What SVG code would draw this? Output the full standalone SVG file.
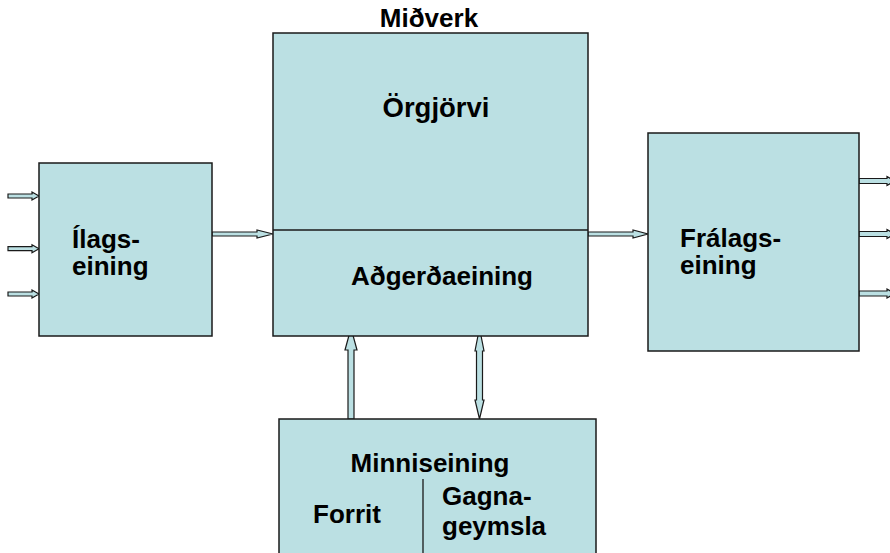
<svg xmlns="http://www.w3.org/2000/svg" width="890" height="553" viewBox="0 0 890 553">
<style>
.box{fill:#BBE0E3;stroke:#1a1a1a;stroke-width:1.5}
.div{stroke:#1a1a1a;stroke-width:1.3;fill:none}
.arr{fill:#BBE0E3;stroke:#1a1a1a;stroke-width:1.2;stroke-linejoin:miter}
text{font-family:"Liberation Sans",Arial,Helvetica,sans-serif;font-weight:bold;fill:#000;font-size:26px}
</style>
<rect width="890" height="553" fill="#fff"/>
<g id="connectors">
  <polygon class="arr" points="8,194 32,194 32,192 39,196 32,200 32,198 8,198"/>
  <polygon class="arr" points="8,246.7 32,246.7 32,244.7 39,248.7 32,252.7 32,250.7 8,250.7"/>
  <polygon class="arr" points="8,292 32,292 32,290 39,294 32,298 32,296 8,296"/>
  <polygon class="arr" points="212,232 257,232 257,230 273,234 257,238 257,236 212,236"/>
  <polygon class="arr" points="588,232 633,232 633,230 648,234 633,238 633,236 588,236"/>
  <polygon class="arr" points="859,178.5 887,178.5 887,176.5 895,181 887,185.5 887,183.5 859,183.5"/>
  <polygon class="arr" points="859,231.5 887,231.5 887,229.5 895,234 887,238.5 887,236.5 859,236.5"/>
  <polygon class="arr" points="859,291 887,291 887,289 895,293.5 887,298 887,296 859,296"/>
  <polygon class="arr" points="348,419 348,350 345,350 351,328 357,350 354,350 354,419"/>
  <polygon class="arr" points="476.5,400 476.5,351 475,351 479.5,328 484,351 482.5,351 482.5,400 484,400 479.5,419 475,400"/>
</g>
<g id="ilags">
  <rect class="box" x="39" y="163" width="173" height="173"/>
  <text x="72" y="248">Ílags-</text>
  <text x="72" y="275">eining</text>
</g>
<g id="midverk">
  <text x="429" y="27" text-anchor="middle">Miðverk</text>
  <rect class="box" x="273" y="33" width="315" height="303"/>
  <line class="div" x1="273" y1="230" x2="588" y2="230"/>
  <text x="436" y="117" text-anchor="middle" style="font-size:27.5px">Örgjörvi</text>
  <text x="442" y="285" text-anchor="middle">Aðgerðaeining</text>
</g>
<g id="fralags">
  <rect class="box" x="648" y="133" width="211" height="218"/>
  <text x="680" y="247">Frálags-</text>
  <text x="680" y="274">eining</text>
</g>
<g id="minni">
  <rect class="box" x="279" y="419" width="317" height="150"/>
  <line class="div" x1="423" y1="479" x2="423" y2="553"/>
  <text x="430" y="472" text-anchor="middle">Minniseining</text>
  <text x="313" y="523">Forrit</text>
  <text x="442" y="505">Gagna-</text>
  <text x="442" y="535">geymsla</text>
</g>
</svg>
